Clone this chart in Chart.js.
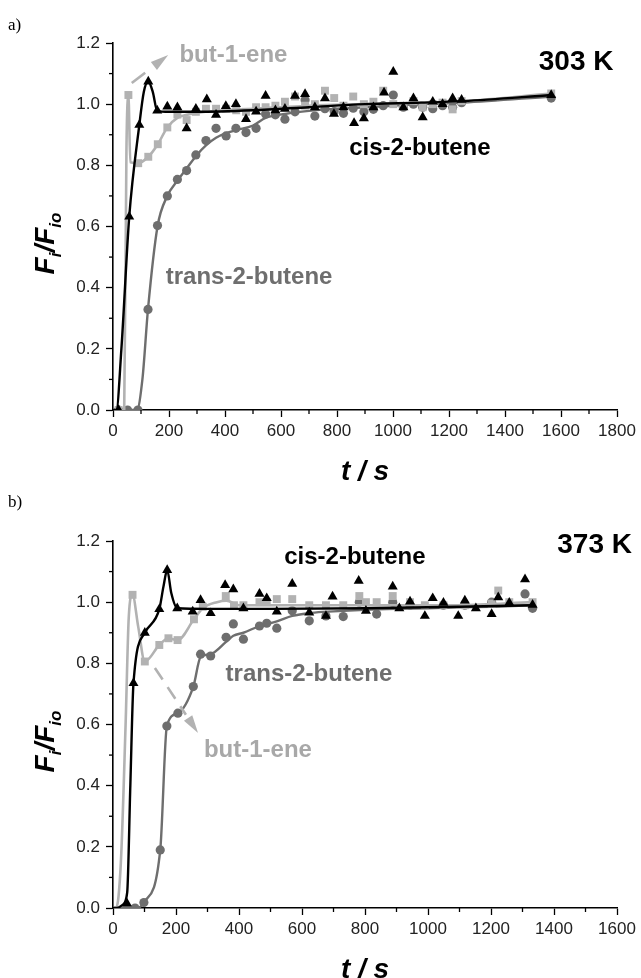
<!DOCTYPE html>
<html>
<head>
<meta charset="utf-8">
<script src="https://cdn.jsdelivr.net/npm/chart.js@4.4.1/dist/chart.umd.min.js"></script>
<style>
  html, body { margin: 0; padding: 0; background: #fff; }
  #wrap { position: relative; width: 641px; height: 978px; }
  canvas { position: absolute; left: 0; }
</style>
</head>
<body>
<div id="wrap">
  <canvas id="cA" width="641" height="490" style="top:0"></canvas>
  <canvas id="cB" width="641" height="488" style="top:490px"></canvas>
</div>
<script>
// ---------------- DATA ----------------
// Panel a) 303 K
const xTicksA = [0, 200, 400, 600, 800, 1000, 1200, 1400, 1600, 1800];
const yTicks = [0.0, 0.2, 0.4, 0.6, 0.8, 1.0, 1.2];
const yTickLabels = ['0.0', '0.2', '0.4', '0.6', '0.8', '1.0', '1.2'];

const tA_cis = [20,58,94,126,158,194,230,263,296,335,368,403,439,475,511,545,580,614,650,686,721,757,789,823,861,896,930,968,1001,1037,1073,1106,1142,1177,1213,1245,1565];
const fA_cis = [0.0,0.632,0.932,1.074,0.979,0.992,0.99,0.921,0.985,1.016,0.965,0.994,1.0,0.951,0.976,1.027,0.98,0.985,1.027,1.033,0.99,1.019,0.968,0.99,0.938,0.954,0.99,1.038,1.106,0.99,1.019,0.957,1.008,1.0,1.019,1.014,1.03];

const tA_but = [20,55,90,126,160,194,230,263,296,332,368,404,440,475,511,545,580,614,650,686,721,757,790,823,858,896,930,965,1001,1037,1073,1106,1142,1177,1213,1245,1565];
const fA_but = [0.0,1.03,0.807,0.828,0.869,0.924,0.966,0.948,0.975,0.985,0.985,0.985,0.98,0.975,0.99,0.99,0.995,1.008,1.025,0.995,1.0,1.044,1.02,0.995,1.025,1.0,1.008,1.044,1.0,0.995,1.01,0.99,1.0,1.005,0.983,1.01,1.035];

const tA_tr = [20,52,89,125,159,194,230,263,296,332,368,404,439,475,511,545,580,614,650,686,721,757,790,823,858,896,930,965,1001,1037,1073,1106,1142,1177,1213,1245,1565];
const fA_tr = [0,0,0,0.329,0.603,0.70,0.754,0.783,0.834,0.881,0.921,0.896,0.921,0.907,0.921,0.968,0.965,0.951,0.975,1.014,0.961,0.985,0.976,0.97,0.987,0.975,0.983,0.995,1.03,0.99,1.0,0.99,0.985,0.995,0.99,1.005,1.02];

// fitted curves, panel a
const tA_cisFit = [0,12,30,58,94,110,126,142,158,200,300,500,700,900,1100,1250,1565];
const fA_cisFit = [0,0,0.2,0.632,0.932,1.04,1.074,1.04,0.978,0.975,0.975,0.98,0.99,1.0,1.005,1.01,1.03];
const tA_butFit = [0,40,48,55,62,90,126,160,194,230,263,330,500,700,900,1100,1250,1565];
const fA_butFit = [0,0,0.85,1.03,0.81,0.807,0.828,0.869,0.924,0.955,0.965,0.975,0.985,0.995,1.0,1.005,1.01,1.035];
const tA_trFit = [0,85,105,125,159,194,230,263,296,332,368,404,440,500,545,614,700,800,900,1000,1100,1250,1565];
const fA_trFit = [0,0,0.1,0.33,0.6,0.70,0.75,0.79,0.83,0.865,0.89,0.905,0.915,0.93,0.955,0.968,0.978,0.985,0.99,0.995,1.0,1.005,1.025];

// Panel b) 373 K
const xTicksB = [0, 200, 400, 600, 800, 1000, 1200, 1400, 1600];

const tB_cis = [44,65,101,147,172,204,253,278,310,356,382,414,465,488,520,569,623,676,697,780,803,888,909,943,990,1015,1049,1096,1117,1152,1202,1223,1258,1308,1332];
const fB_cis = [0.015,0.735,0.90,0.977,1.105,0.98,0.969,1.007,0.964,1.056,1.042,0.98,1.027,1.013,0.969,1.06,0.966,0.955,1.018,1.07,0.972,1.051,0.98,1.002,0.955,1.013,0.998,0.955,1.005,0.98,0.961,1.016,0.998,1.075,0.991];

const tB_but = [62,101,147,176,205,257,285,358,384,414,465,488,520,569,623,676,731,782,803,837,888,943,990,1049,1117,1202,1223,1258,1332];
const fB_but = [1.024,0.806,0.86,0.882,0.876,0.944,0.985,1.02,0.99,0.99,1.0,1.0,1.01,1.01,0.99,0.99,0.99,1.02,1.0,1.0,1.02,1.0,0.99,0.99,0.99,0.995,1.038,1.0,1.0];

const tB_tr = [44,70,98,150,171,206,255,278,310,359,382,414,465,488,520,569,623,676,731,782,837,888,943,1049,1117,1202,1308,1332];
const fB_tr = [0.0,0.0,0.018,0.19,0.595,0.637,0.724,0.83,0.824,0.885,0.929,0.879,0.922,0.931,0.915,0.972,0.939,0.955,0.953,1.0,0.961,1.0,0.99,0.99,0.99,1.0,1.027,0.98];

// fitted curves, panel b
const tB_cisFit = [0,12,30,45,55,65,101,147,160,172,185,204,300,500,800,1100,1332];
const fB_cisFit = [0,0,0.01,0.05,0.4,0.735,0.90,0.977,1.05,1.105,1.03,0.98,0.978,0.978,0.98,0.985,0.99];
const tB_butFit = [0,10,25,40,50,62,80,101,147,176,205,257,285,330,360,400,500,800,1100,1332];
const fB_butFit = [0,0,0.15,0.6,0.95,1.024,0.92,0.806,0.86,0.882,0.876,0.944,0.98,1.0,1.005,0.99,0.99,0.99,0.99,1.0];
const tB_trFit = [0,44,75,98,150,171,206,255,278,310,359,382,414,465,520,569,630,700,800,900,1000,1100,1200,1332];
const fB_trFit = [0,0,0,0.018,0.19,0.595,0.637,0.724,0.82,0.83,0.87,0.89,0.90,0.922,0.937,0.955,0.965,0.97,0.975,0.978,0.98,0.983,0.985,0.99];

// ---------------- STYLE ----------------
const C_CIS = '#000000';
const C_BUT = '#b2b2b2';
const C_TR  = '#6e6e6e';
const FONT = '"Liberation Sans", Arial, Helvetica, sans-serif';

function pts(t, f) { return t.map((v, i) => ({ x: v, y: f[i] })); }
function mids(a) { const r = []; for (let i = 0; i < a.length - 1; i++) r.push((a[i] + a[i + 1]) / 2); return r; }

function datasets(d) {
  return [
    { data: pts(d.tc, d.fc), showLine: false, pointStyle: 'triangle', pointRadius: 5.8, backgroundColor: C_CIS, borderColor: C_CIS, borderWidth: 0, order: 1 },
    { data: pts(d.tcF, d.fcF), showLine: true, pointRadius: 0, borderColor: C_CIS, borderWidth: 2.4, cubicInterpolationMode: 'monotone', order: 2 },
    { data: pts(d.tb, d.fb), showLine: false, pointStyle: 'rect', pointRadius: 5.6, backgroundColor: C_BUT, borderColor: C_BUT, borderWidth: 0, order: 3 },
    { data: pts(d.tbF, d.fbF), showLine: true, pointRadius: 0, borderColor: C_BUT, borderWidth: 2.6, cubicInterpolationMode: 'monotone', order: 4 },
    { data: pts(d.tt, d.ft), showLine: false, pointStyle: 'circle', pointRadius: 4.6, backgroundColor: C_TR, borderColor: C_TR, borderWidth: 0, order: 5 },
    { data: pts(d.ttF, d.ftF), showLine: true, pointRadius: 0, borderColor: C_TR, borderWidth: 2.4, cubicInterpolationMode: 'monotone', order: 6 },
  ];
}

const decoPlugin = {
  id: 'deco',
  afterDraw(chart, args, o) {
    const { ctx, chartArea: ca, scales: { x, y } } = chart;
    ctx.save();
    // minor ticks
    ctx.strokeStyle = '#000'; ctx.lineWidth = 1.3;
    o.xMinor.forEach(v => { const p = x.getPixelForValue(v); ctx.beginPath(); ctx.moveTo(p, ca.bottom); ctx.lineTo(p, ca.bottom + 4); ctx.stroke(); });
    o.yMinor.forEach(v => { const p = y.getPixelForValue(v); ctx.beginPath(); ctx.moveTo(ca.left, p); ctx.lineTo(ca.left - 4, p); ctx.stroke(); });
    // dashed arrow
    const a = o.arrow;
    const x0 = x.getPixelForValue(a.t0), y0 = y.getPixelForValue(a.f0);
    const x1 = x.getPixelForValue(a.t1), y1 = y.getPixelForValue(a.f1);
    const dx = x1 - x0, dy = y1 - y0, L = Math.hypot(dx, dy), ux = dx / L, uy = dy / L;
    const head = 18, hw = 5;
    ctx.strokeStyle = C_BUT; ctx.fillStyle = C_BUT; ctx.lineWidth = 2.6;
    ctx.setLineDash(a.dash);
    ctx.beginPath(); ctx.moveTo(x0, y0); ctx.lineTo(x1 - ux * (head + a.gap), y1 - uy * (head + a.gap)); ctx.stroke();
    ctx.setLineDash([]);
    const bx = x1 - ux * head, by = y1 - uy * head;
    ctx.beginPath(); ctx.moveTo(x1, y1); ctx.lineTo(bx - uy * hw, by + ux * hw); ctx.lineTo(bx + uy * hw, by - ux * hw); ctx.closePath(); ctx.fill();
    // text labels
    ctx.textAlign = 'center'; ctx.textBaseline = 'middle';
    o.labels.forEach(l => {
      ctx.font = l.font; ctx.fillStyle = l.color;
      ctx.fillText(l.text, x.getPixelForValue(l.t), y.getPixelForValue(l.f));
    });
    // x title
    ctx.font = 'italic bold 28px ' + FONT; ctx.fillStyle = '#000';
    ctx.fillText('t / s', (ca.left + ca.right) / 2, ca.bottom + o.xTitleOffset);
    // y title with subscripts
    const big = 'italic bold 28px ' + FONT, small = 'italic bold 17px ' + FONT;
    const parts = [['F', big, 0], ['i', small, 7], ['/F', big, 0], ['io', small, 7]];
    ctx.translate(ca.left - 59, (ca.top + ca.bottom) / 2 + o.yTitleShift);
    ctx.rotate(-Math.PI / 2);
    let w = 0; parts.forEach(p => { ctx.font = p[1]; w += ctx.measureText(p[0]).width; });
    let px = -w / 2;
    ctx.textAlign = 'left'; ctx.textBaseline = 'alphabetic';
    parts.forEach(p => { ctx.font = p[1]; ctx.fillText(p[0], px, p[2]); px += ctx.measureText(p[0]).width; });
    ctx.restore();
    // panel letter
    ctx.save();
    ctx.font = '17px "Liberation Serif", "Times New Roman", serif'; ctx.fillStyle = '#000';
    ctx.textAlign = 'left'; ctx.textBaseline = 'middle';
    ctx.fillText(o.letter, 8, o.letterY);
    ctx.restore();
  }
};

function makeChart(id, cfg) {
  const H = document.getElementById(id).height;
  return new Chart(document.getElementById(id), {
    type: 'scatter',
    data: { datasets: datasets(cfg.d) },
    options: {
      responsive: false, animation: false, devicePixelRatio: 1,
      layout: { padding: { top: cfg.top, right: 24, left: 0, bottom: 0 } },
      plugins: {
        legend: { display: false }, tooltip: { enabled: false },
        deco: {
          xMinor: mids(cfg.xTicks), yMinor: mids(yTicks),
          arrow: cfg.arrow, labels: cfg.labels, letter: cfg.letter, letterY: cfg.letterY,
          xTitleOffset: 62, yTitleShift: 17
        }
      },
      scales: {
        x: {
          type: 'linear', min: cfg.xTicks[0], max: cfg.xTicks[cfg.xTicks.length - 1],
          afterBuildTicks: s => { s.ticks = cfg.xTicks.map(v => ({ value: v })); },
          afterFit: s => { s.height = H - cfg.bottom; },
          ticks: { font: { family: FONT, size: 17 }, color: '#222', padding: 4, maxRotation: 0, autoSkip: false, callback: v => String(v) },
          grid: { drawOnChartArea: false, drawTicks: true, tickLength: 7, tickColor: '#000', tickWidth: 1.3 },
          border: { display: true, color: '#000', width: 1.6 }
        },
        y: {
          type: 'linear', min: 0, max: 1.2,
          afterBuildTicks: s => { s.ticks = yTicks.map(v => ({ value: v })); },
          afterFit: s => { s.width = 113; },
          ticks: { font: { family: FONT, size: 17 }, color: '#222', padding: 6, autoSkip: false, callback: (v, i) => yTickLabels[i] },
          grid: { drawOnChartArea: false, drawTicks: true, tickLength: 7, tickColor: '#000', tickWidth: 1.3 },
          border: { display: true, color: '#000', width: 1.6 }
        }
      }
    },
    plugins: [decoPlugin]
  });
}

const LBL = 'bold 24px ' + FONT;
const BIG = 'bold 28px ' + FONT;

makeChart('cA', {
  top: 43, bottom: 410, xTicks: xTicksA, letter: 'a)', letterY: 26,
  d: { tc: tA_cis, fc: fA_cis, tcF: tA_cisFit, fcF: fA_cisFit, tb: tA_but, fb: fA_but, tbF: tA_butFit, fbF: fA_butFit, tt: tA_tr, ft: fA_tr, ttF: tA_trFit, ftF: fA_trFit },
  arrow: { t0: 67, f0: 1.069, t1: 197, f1: 1.161, dash: [17, 10], gap: 8 },
  labels: [
    { text: 'but-1-ene', t: 430, f: 1.161, font: LBL, color: '#a8a8a8' },
    { text: '303 K', t: 1654, f: 1.136, font: BIG, color: '#000' },
    { text: 'cis-2-butene', t: 1096, f: 0.857, font: LBL, color: '#000' },
    { text: 'trans-2-butene', t: 486, f: 0.435, font: LBL, color: '#6e6e6e' }
  ]
});

makeChart('cB', {
  top: 51, bottom: 418, xTicks: xTicksB, letter: 'b)', letterY: 13,
  d: { tc: tB_cis, fc: fB_cis, tcF: tB_cisFit, fcF: fB_cisFit, tb: tB_but, fb: fB_but, tbF: tB_butFit, fbF: fB_butFit, tt: tB_tr, ft: fB_tr, ttF: tB_trFit, ftF: fB_trFit },
  arrow: { t0: 133, f0: 0.785, t1: 270, f1: 0.572, dash: [14, 9], gap: 4 },
  labels: [
    { text: 'cis-2-butene', t: 768, f: 1.145, font: LBL, color: '#000' },
    { text: '373 K', t: 1529, f: 1.187, font: BIG, color: '#000' },
    { text: 'trans-2-butene', t: 622, f: 0.765, font: LBL, color: '#6e6e6e' },
    { text: 'but-1-ene', t: 460, f: 0.517, font: LBL, color: '#a8a8a8' }
  ]
});
</script>
</body>
</html>
